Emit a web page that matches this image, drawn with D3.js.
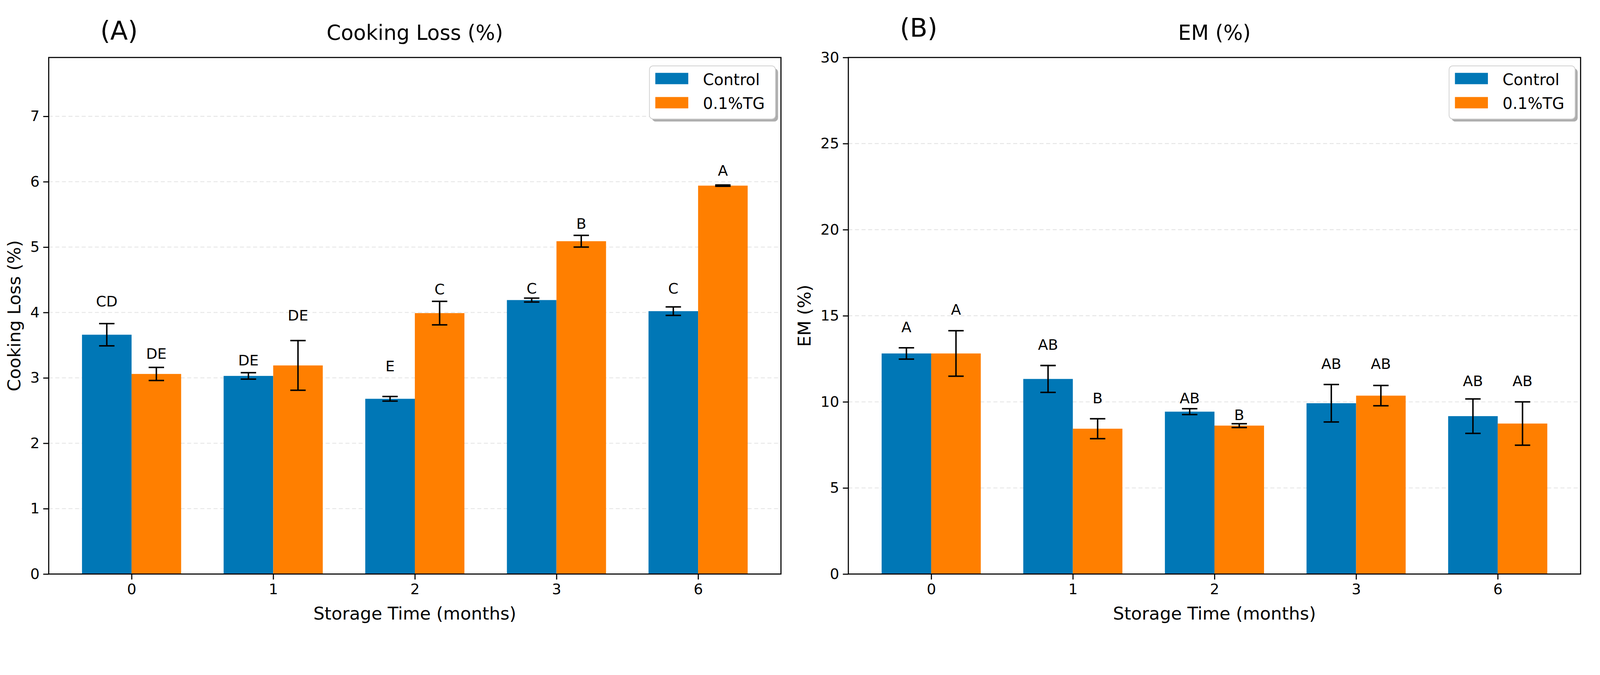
<!DOCTYPE html>
<html>
<head>
<meta charset="utf-8">
<script src="https://cdn.jsdelivr.net/npm/d3@7"></script>
<style>
  html, body { margin: 0; padding: 0; background: #fff; overflow: hidden; }
  text { font-family: "DejaVu Sans", sans-serif; fill: #000; }
</style>
</head>
<body>
<div id="chart"></div>
<script>
// Storage time categories and series
var months = ['0', '1', '2', '3', '6'];
var seriesNames = ['Control', '0.1%TG'];
var colors = ['#0077b6', '#ff7f00'];

// (A) Cooking loss
var cookControl = [3.66, 3.03, 2.68, 4.19, 4.02];
var cookControlSd = [0.17, 0.05, 0.035, 0.03, 0.065];
var cookTG = [3.06, 3.19, 3.99, 5.09, 5.94];
var cookTGSd = [0.10, 0.38, 0.18, 0.09, 0.01];
var cookLetters = [['CD', 'DE', 'E', 'C', 'C'], ['DE', 'DE', 'C', 'B', 'A']];
var cookLetterY = [[4.17, 3.27, 3.18, 4.37, 4.37], [3.37, 3.96, 4.36, 5.36, 6.17]];
var cookTicks = [0, 1, 2, 3, 4, 5, 6, 7];

// (B) EM
var emControl = [12.81, 11.33, 9.43, 9.92, 9.17];
var emControlSd = [0.33, 0.78, 0.17, 1.09, 1.00];
var emTG = [12.81, 8.44, 8.62, 10.36, 8.74];
var emTGSd = [1.32, 0.58, 0.11, 0.59, 1.26];
var emLetters = [['A', 'AB', 'AB', 'AB', 'AB'], ['A', 'B', 'B', 'AB', 'AB']];
var emLetterY = [[14.34, 13.32, 10.22, 12.22, 11.22], [15.36, 10.22, 9.24, 12.22, 11.22]];
var emTicks = [0, 5, 10, 15, 20, 25, 30];

const width = 4368;
const height = 1729;

// Scale the drawing to whatever the window is
const svg = d3.select('#chart').append('svg')
    .attr('viewBox', `0 0 ${width} ${height}`)
    .attr('preserveAspectRatio', 'xMinYMin meet')
    .style('width', '100vw')
    .style('height', 'auto')
    .style('display', 'block');

drawPanel({
    left: 133, right: 2132, top: 157, bottom: 1568,
    tag: '(A)', title: 'Cooking Loss (%)', ylabel: 'Cooking Loss (%)',
    ymax: 7.9, ticks: cookTicks,
    means: [cookControl, cookTG], sds: [cookControlSd, cookTGSd],
    letters: cookLetters, letterY: cookLetterY, tagBase: 108
});

drawPanel({
    left: 2316, right: 4315, top: 157, bottom: 1568,
    tag: '(B)', title: 'EM (%)', ylabel: 'EM (%)',
    ymax: 30, ticks: emTicks,
    means: [emControl, emTG], sds: [emControlSd, emTGSd],
    letters: emLetters, letterY: emLetterY, tagBase: 100
});

function drawPanel(p) {
    var g = svg.append('g');

    // x positions 0..4 with matplotlib-like margins
    var x = d3.scaleLinear().domain([-0.585, 4.585]).range([p.left, p.right]);
    var y = d3.scaleLinear().domain([0, p.ymax]).range([p.bottom, p.top]);
    var barW = 0.35;

    // Grid lines
    g.selectAll('.grid')
        .data(p.ticks.filter(t => t > 0 && t < p.ymax))
        .enter().append('line')
        .attr('x1', p.left).attr('x2', p.right)
        .attr('y1', d => y(d)).attr('y2', d => y(d))
        .attr('stroke', '#e6e6e6')
        .attr('stroke-width', 2.5)
        .attr('stroke-dasharray', '11,7');

    // Bars, error bars and letters for both series
    p.means.forEach(function(vals, s) {
        var offset = s === 0 ? -barW / 2 : barW / 2;
        var data = vals.map((v, i) => ({i: i, v: v, sd: p.sds[s][i], letter: p.letters[s][i], ly: p.letterY[s][i]}));

        g.selectAll('.bar' + s)
            .data(data)
            .enter().append('rect')
            .attr('x', d => x(d.i + offset - barW / 2))
            .attr('width', d => x(barW) - x(0))
            .attr('y', d => y(d.v))
            .attr('height', d => y(0) - y(d.v))
            .attr('fill', colors[s]);

        var eb = g.selectAll('.err' + s)
            .data(data)
            .enter().append('g')
            .attr('stroke', '#000')
            .attr('stroke-width', 4);
        eb.append('line')
            .attr('x1', d => x(d.i + offset)).attr('x2', d => x(d.i + offset))
            .attr('y1', d => y(d.v - d.sd)).attr('y2', d => y(d.v + d.sd));
        eb.append('line')
            .attr('x1', d => x(d.i + offset) - 21).attr('x2', d => x(d.i + offset) + 21)
            .attr('y1', d => y(d.v - d.sd)).attr('y2', d => y(d.v - d.sd));
        eb.append('line')
            .attr('x1', d => x(d.i + offset) - 21).attr('x2', d => x(d.i + offset) + 21)
            .attr('y1', d => y(d.v + d.sd)).attr('y2', d => y(d.v + d.sd));

        g.selectAll('.letter' + s)
            .data(data)
            .enter().append('text')
            .attr('x', d => x(d.i + offset))
            .attr('y', d => y(d.ly))
            .attr('dy', '0.36em')
            .attr('text-anchor', 'middle')
            .style('font-size', '40px')
            .text(d => d.letter);
    });

    // Frame
    g.append('rect')
        .attr('x', p.left).attr('y', p.top)
        .attr('width', p.right - p.left).attr('height', p.bottom - p.top)
        .attr('fill', 'none')
        .attr('stroke', '#000')
        .attr('stroke-width', 3);

    // Y axis
    var yAxis = g.append('g')
        .attr('transform', `translate(${p.left},0)`)
        .call(d3.axisLeft(y).tickValues(p.ticks).tickSize(15).tickPadding(10).tickFormat(d3.format('d')));
    yAxis.select('.domain').remove();
    yAxis.selectAll('line').attr('stroke-width', 3);
    yAxis.selectAll('text').style('font-size', '40px');

    // X axis
    var xAxis = g.append('g')
        .attr('transform', `translate(0,${p.bottom})`)
        .call(d3.axisBottom(x).tickValues([0, 1, 2, 3, 4]).tickSize(15).tickPadding(12).tickFormat(i => months[i]));
    xAxis.select('.domain').remove();
    xAxis.selectAll('line').attr('stroke-width', 3);
    xAxis.selectAll('text').style('font-size', '40px');

    // Labels
    g.append('text')
        .attr('x', (p.left + p.right) / 2).attr('y', 1692)
        .attr('text-anchor', 'middle')
        .style('font-size', '48px')
        .text('Storage Time (months)');

    var widest = d3.max(p.ticks, t => String(t).length) * 25.4;
    g.append('text')
        .attr('transform', `translate(${p.left - 15 - 10 - widest - 27},${(p.top + p.bottom) / 2}) rotate(-90)`)
        .attr('text-anchor', 'middle')
        .style('font-size', '48px')
        .text(p.ylabel);

    g.append('text')
        .attr('x', (p.left + p.right) / 2).attr('y', 109)
        .attr('text-anchor', 'middle')
        .style('font-size', '56px')
        .text(p.title);

    g.append('text')
        .attr('x', p.left + 192).attr('y', p.tagBase)
        .attr('text-anchor', 'middle')
        .style('font-size', '70px')
        .text(p.tag);

    // Legend with shadow
    var lx = p.right - 15 - 344, ly = p.top + 23;
    var legend = g.append('g').attr('transform', `translate(${lx},${ly})`);
    legend.append('rect')
        .attr('x', 7).attr('y', 7).attr('width', 344).attr('height', 145)
        .attr('rx', 10).attr('fill', '#9a9a9a').attr('opacity', 0.8);
    legend.append('rect')
        .attr('width', 344).attr('height', 145)
        .attr('rx', 10).attr('fill', '#fff')
        .attr('stroke', '#d0d0d0').attr('stroke-width', 2);
    seriesNames.forEach(function(name, s) {
        legend.append('rect')
            .attr('x', 16).attr('y', 19 + s * 66)
            .attr('width', 90).attr('height', 31)
            .attr('fill', colors[s]);
        legend.append('text')
            .attr('x', 146).attr('y', 53 + s * 65)
            .style('font-size', '43px')
            .text(name);
    });
}
</script>
</body>
</html>
